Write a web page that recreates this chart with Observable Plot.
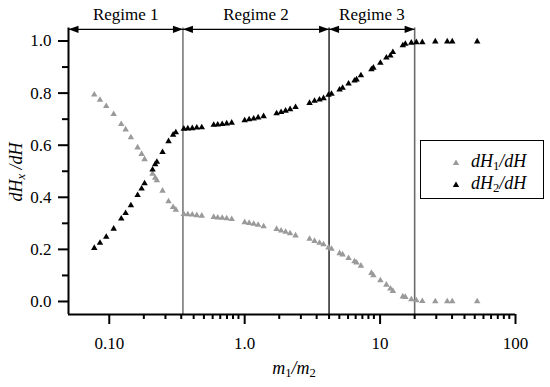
<!DOCTYPE html>
<html>
<head>
<meta charset="utf-8">
<script src="https://cdn.jsdelivr.net/npm/d3@7"></script>
<script src="https://cdn.jsdelivr.net/npm/@observablehq/plot@0.6"></script>
<style>
  html, body { margin: 0; padding: 0; background: #fff; }
  #wrap { position: relative; width: 550px; height: 387px; font-family: 'Liberation Serif'; color: #000; }
  #wrap > svg.chart { position: absolute; left: 0; top: 0; }
  .ov { position: absolute; white-space: nowrap; font-family: 'Liberation Serif'; font-size: 18px; line-height: 1; }
  .ov sub { font-size: 0.7em; vertical-align: -0.25em; font-style: normal; }
  #legend { position: absolute; left: 420px; top: 140px; width: 122px; height: 57px; border: 1.5px solid #000; background: #fff; }
  .lrow { position: absolute; font-family: 'Liberation Serif'; font-size: 18px; line-height: 1; white-space: nowrap; }
  .lrow sub { font-size: 0.7em; vertical-align: -0.25em; font-style: normal; }
  .lrow svg { position: absolute; left: -19px; top: 6px; }
</style>
</head>
<body>
<div id="wrap"></div>
<script>
// ---- data ----
const ratio = [0.0775,0.0854,0.0950,0.1078,0.1226,0.1321,0.1445,0.1619,0.1733,0.1823,0.2088,0.2183,0.2247,0.2474,0.2740,0.2961,0.3100,
  0.3552,0.3802,0.4103,0.4428,0.4821,
  0.5908,0.6324,0.6825,0.7367,0.8021,
  1.000,1.079,1.165,1.257,1.380,
  1.721,1.858,2.005,2.164,2.376,
  3.013,3.280,3.570,3.822,4.159,4.377,
  5.022,5.284,5.850,6.476,6.701,7.220,8.628,8.925,10.05,11.13,11.91,12.43,14.72,15.36,17.01,18.52,20.50,25.56,31.33,34.11,52.12];
const dH1 = [0.794,0.774,0.750,0.719,0.681,0.660,0.630,0.591,0.566,0.546,0.490,0.475,0.465,0.425,0.384,0.362,0.352,
  0.335,0.334,0.333,0.331,0.329,
  0.324,0.322,0.321,0.319,0.316,
  0.304,0.301,0.298,0.294,0.288,
  0.278,0.272,0.267,0.261,0.253,
  0.240,0.232,0.225,0.219,0.207,0.202,
  0.185,0.180,0.166,0.154,0.149,0.137,0.109,0.100,0.081,0.064,0.049,0.040,0.019,0.017,0.008,0.004,0.001,0.000,0.000,0.000,0.000];
const dH2 = [0.205,0.225,0.248,0.279,0.318,0.339,0.369,0.408,0.433,0.453,0.506,0.526,0.536,0.573,0.615,0.640,0.649,
  0.663,0.664,0.665,0.667,0.668,
  0.678,0.679,0.681,0.683,0.686,
  0.695,0.699,0.702,0.706,0.711,
  0.722,0.727,0.732,0.738,0.746,
  0.762,0.770,0.775,0.780,0.793,0.797,
  0.813,0.820,0.836,0.848,0.852,0.868,0.891,0.897,0.916,0.936,0.944,0.957,0.983,0.989,0.993,0.995,0.995,0.998,0.998,0.998,0.998];

const regimeNames = ["Regime 1", "Regime 2", "Regime 3"];
const regimeEdges = [0.05, 0.35, 4.2, 18];
const boundaryColors = ["#7a7a7a", "#333333", "#6a6a6a"];
const xMajorTicks = [0.1, 1, 10, 100];
const xMajorLabels = ["0.10", "1.0", "10", "100"];
const xMinorSteps = [1.8, 2.6, 3.4, 4.2, 5.0, 5.8, 6.6, 7.4, 8.2, 9.0];
const yMajorTicks = [0, 0.2, 0.4, 0.6, 0.8, 1.0];
const yMinorTicks = [0.1, 0.3, 0.5, 0.7, 0.9];

// ---- derived tables ----
const pts = ratio.map((r, i) => ({r, h1: dH1[i], h2: dH2[i]}));
const xMinorTicks = [0.1, 1, 10].flatMap(d => xMinorSteps.map(s => +(s * d).toPrecision(3)));
const xLabelMap = new Map(xMajorTicks.map((t, i) => [t, xMajorLabels[i]]));
const segments = regimeNames.map((name, i) => ({name, a: regimeEdges[i], b: regimeEdges[i + 1]}));
const boundaries = regimeEdges.slice(1).map((x, i) => ({x, c: boundaryColors[i]}));
const arrowY = 1.045, labelY = 1.102;
const FONT = "Liberation Serif";

const headRight = {draw(ctx) { ctx.moveTo(0, 0); ctx.lineTo(-10, -3.6); ctx.lineTo(-10, 3.6); ctx.closePath(); }};
const headLeft  = {draw(ctx) { ctx.moveTo(0, 0); ctx.lineTo(10, -3.6); ctx.lineTo(10, 3.6); ctx.closePath(); }};

const chart = Plot.plot({
  width: 550,
  height: 387,
  marginLeft: 68,
  marginRight: 35,
  marginTop: 27.5,
  marginBottom: 73,
  x: {type: "log", domain: [0.05, 100], label: null},
  y: {domain: [-0.05, 1.05], label: null},
  style: {fontFamily: FONT, fontSize: "17px", background: "white", color: "black", overflow: "visible"},
  marks: [
    ...boundaries.map(b => Plot.ruleX([b], {x: "x", stroke: b.c, strokeWidth: 1.6})),
    Plot.ruleX([0.05], {strokeWidth: 2}),
    Plot.ruleY([-0.05], {strokeWidth: 2}),
    Plot.axisY(yMajorTicks, {tickSize: 10, tickPadding: 7, strokeWidth: 2, tickFormat: d => d.toFixed(1), fontSize: 17, fontFamily: FONT}),
    Plot.axisY(yMinorTicks, {tickSize: 6, strokeWidth: 2, fill: "none"}),
    Plot.axisX(xMajorTicks, {tickSize: 10, tickPadding: 12, strokeWidth: 2, tickFormat: d => xLabelMap.get(d), fontSize: 17, fontFamily: FONT}),
    Plot.axisX(xMinorTicks, {tickSize: 5, strokeWidth: 2, fill: "none"}),
    Plot.ruleY(segments, {y: () => arrowY, x1: "a", x2: "b", stroke: "black", strokeWidth: 1.2}),
    Plot.dot(segments, {x: "a", y: () => arrowY, symbol: headLeft, r: 5, fill: "black", stroke: "none"}),
    Plot.dot(segments, {x: "b", y: () => arrowY, symbol: headRight, r: 5, fill: "black", stroke: "none"}),
    Plot.text(segments, {x: d => Math.sqrt(d.a * d.b), y: () => labelY, text: "name", fontSize: 17, fontFamily: FONT, fill: "black"}),
    Plot.dot(pts, {x: "r", y: "h1", symbol: "triangle", r: 2.4, fill: "#9a9a9a", stroke: "none"}),
    Plot.dot(pts, {x: "r", y: "h2", symbol: "triangle", r: 2.4, fill: "#000", stroke: "none"})
  ]
});

const wrap = document.getElementById("wrap");
chart.classList.add("chart");
wrap.appendChild(chart);

const yl = document.createElement("div");
yl.className = "ov";
yl.innerHTML = "<i>dH</i><sub><i>x</i></sub> <i>/dH</i>";
yl.style.left = "17px"; yl.style.top = "172px";
yl.style.transform = "translate(-50%,-50%) rotate(-90deg)";
wrap.appendChild(yl);

const xl = document.createElement("div");
xl.className = "ov";
xl.innerHTML = "<i>m</i><sub>1</sub><i>/m</i><sub>2</sub>";
xl.style.left = "294px"; xl.style.top = "369px";
xl.style.transform = "translate(-50%,-50%)";
wrap.appendChild(xl);

const lg = document.createElement("div");
lg.id = "legend";
const series = [{label: "<i>dH</i><sub>1</sub><i>/dH</i>", color: "#9a9a9a"}, {label: "<i>dH</i><sub>2</sub><i>/dH</i>", color: "#000"}];
series.forEach((s, i) => {
  const row = document.createElement("div");
  row.className = "lrow";
  row.style.top = (11 + i * 22) + "px";
  row.style.left = "50px";
  row.innerHTML = `<svg width="8" height="8"><polygon points="4,1.5 7.2,7 0.8,7" fill="${s.color}"/></svg>` + s.label;
  lg.appendChild(row);
});
wrap.appendChild(lg);
</script>
</body>
</html>
